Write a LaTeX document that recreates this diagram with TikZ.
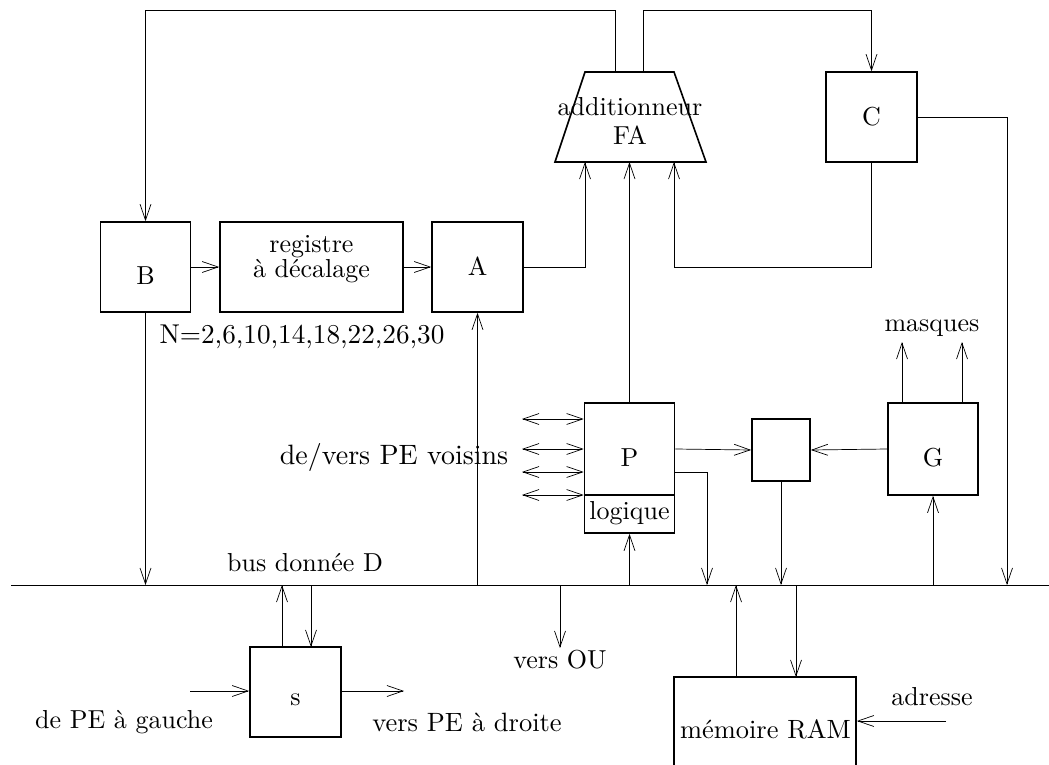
\documentclass[tikz,border=0pt]{standalone}
\usepackage{fontspec}
\setmainfont{lmroman10-regular}[Extension=.otf]
\usetikzlibrary{arrows.meta}
\tikzset{
  bloc/.style={draw, line width=1.6pt, inner sep=0pt, minimum width=90pt, minimum height=90pt, text height=17.5pt, text depth=0pt},
  bas/.style={text height=34pt},
  fl/.style={line width=0.7pt, -{Straight Barb[length=16pt,width=11pt,line width=0.7pt]}},
  bfl/.style={line width=0.7pt, {Straight Barb[length=16pt,width=11pt,line width=0.7pt]}-{Straight Barb[length=16pt,width=11pt,line width=0.7pt]}},
  ln/.style={line width=0.7pt},
  txt/.style={inner sep=0pt, align=center}
}
\begin{document}
\begin{tikzpicture}[x=1pt, y=-1pt, font=\fontsize{26}{29}\selectfont]
        \path[use as bounding box, clip] (0,0) rectangle (1049,765);

        % blocs
        \node[bloc, bas] (B) at (145.5,267) {B};
        \node[bloc, minimum width=183pt, text height=0pt, text depth=0pt, align=center] (R) at (311.5,267) {};
        \node[txt] (Rtxt) at (311.5,259) {registre\\[-4pt]à décalage};
        \node[bloc, minimum width=91pt] (A) at (477.5,267) {A};
        \node[bloc, minimum width=91pt] (C) at (871.5,117) {C};
        \node[bloc, bas, minimum height=92pt] (P) at (629.5,449) {P};
        \node[bloc, minimum height=38pt, text height=16pt, text depth=5pt] (L) at (629.5,514) {logique};
        \node[bloc, minimum width=58pt, minimum height=62pt] (S) at (781,450) {};
        \node[bloc, bas, minimum height=92pt] (G) at (933,449) {G};
        \node[bloc, minimum width=91pt, text height=26pt] (s) at (295.5,692) {s};
        \node[bloc, minimum width=182pt, minimum height=104pt] (RAM) at (765,729) {};
        \node[txt] (RAMtxt) at (765.5,729) {\fontsize{26.4}{29}\selectfont mémoire RAM};

        % additionneur
        \coordinate (FAa) at (585,72);
        \coordinate (FAb) at (674,72);
        \coordinate (FAc) at (706,162);
        \coordinate (FAd) at (555,162);
        \draw[line width=1.6pt] (FAa) -- (FAb) -- (FAc) -- (FAd) -- cycle;
        \node[txt] (FA) at (630,121) {additionneur\\FA};

        % bus
        \coordinate (bus0) at (11,585);
        \coordinate (bus1) at (1049,585);
        \draw[ln] (bus0) -- (bus1);
        \node[txt] (busD) at (305,563) {bus donnée D};

        % haut
        \coordinate (h1) at (615,10);
        \coordinate (h2) at (643,10);
        \coordinate (FAs1) at (615,72);
        \coordinate (FAs2) at (643,72);
        \draw[fl] (FAs1) -- (h1) -| (B.north);
        \draw[fl] (FAs2) -- (h2) -| (C.north);

        \draw[fl] (B.east) -- (R.west);
        \draw[fl] (R.east) -- (A.west);
        \draw[fl] (A.east) -| (FAa |- FAd);
        \draw[fl] (C.south) |- (FAb |- A.east) -- (FAb |- FAd);
        \draw[fl] (P.north) -- (P.north |- FAd);
        \coordinate (d1) at (1007,585);
        \draw[fl] (C.east) -| (d1);

        \node[txt] (N) at (302,337) {\fontsize{27.2}{30}\selectfont N=2,6,10,14,18,22,26,30};

        % vers le bus
        \draw[fl] (B.south) -- (B.south |- bus0);
        \draw[fl] (A.south |- bus0) -- (A.south);
        \draw[fl] (L.south |- bus0) -- (L.south);
        \draw[fl] (G.south |- bus0) -- (G.south);
        \draw[fl] (S.south) -- (S.south |- bus0);

        % P
        \coordinate (v1) at (522,419);
        \coordinate (v2) at (522,449);
        \coordinate (v3) at (522,472);
        \coordinate (v4) at (522,495);
        \draw[bfl] (v1) -- (v1 -| P.west);
        \draw[bfl] (v2) -- (v2 -| P.west);
        \draw[bfl] (v3) -- (v3 -| P.west);
        \draw[bfl] (v4) -- (v4 -| P.west);
        \node[txt] (voisins) at (394,457) {\fontsize{28}{30}\selectfont de/vers PE voisins};
        \draw[fl] (P.east) -- (S.west);
        \draw[fl] (G.west) -- (S.east);
        \coordinate (p1) at (707,472);
        \draw[fl] (p1 -| P.east) -- (p1) -- (p1 |- bus0);

        % masques
        \coordinate (m1) at (902,342);
        \coordinate (m2) at (962,342);
        \draw[fl] (m1 |- G.north) -- (m1);
        \draw[fl] (m2 |- G.north) -- (m2);
        \node[txt] (masques) at (932,328) {masques};

        % s
        \coordinate (s1) at (282,647);
        \coordinate (s2) at (311,647);
        \coordinate (sg) at (190,691);
        \coordinate (sd) at (404,691);
        \draw[fl] (s1) -- (s1 |- bus0);
        \draw[fl] (s2 |- bus0) -- (s2);
        \draw[fl] (sg) -- (sg -| s.west);
        \draw[fl] (sd -| s.east) -- (sd);
        \node[txt] (gauche) at (124,722) {de PE à gauche};
        \node[txt] (droite) at (467,722) {\fontsize{26.5}{29}\selectfont vers PE à droite};

        % vers OU
        \coordinate (ou) at (560,648);
        \draw[fl] (ou |- bus0) -- (ou);
        \node[txt] (OU) at (560,660) {vers OU};

        % RAM
        \coordinate (r1) at (736,677);
        \coordinate (r2) at (796,677);
        \coordinate (ad) at (946,721);
        \draw[fl] (r1) -- (r1 |- bus0);
        \draw[fl] (r2 |- bus0) -- (r2);
        \draw[fl] (ad) -- (ad -| RAM.east);
        \node[txt] (adresse) at (932,697) {adresse};
\end{tikzpicture}
\end{document}
